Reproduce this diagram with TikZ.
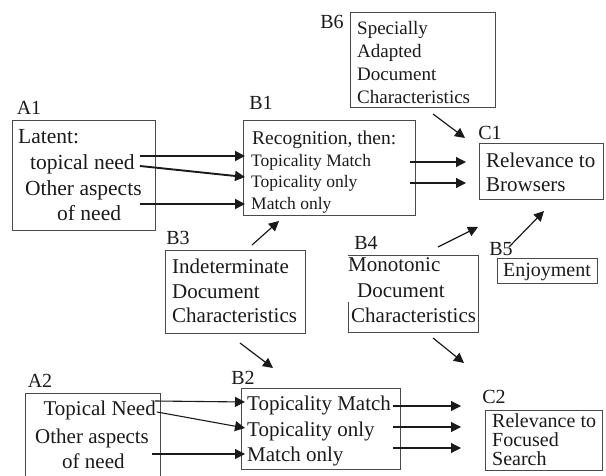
\documentclass[tikz,border=0pt]{standalone}
\usepackage{fontspec}
\setmainfont{Liberation Serif}
\usetikzlibrary{arrows.meta}
\definecolor{ink}{HTML}{1A1A1A}
\definecolor{boxgray}{HTML}{4A4A4A}
\newcommand{\fs}[1]{\fontsize{#1}{#1}\selectfont}
\begin{document}
\begin{tikzpicture}[x=1pt,y=-1pt,
  box/.style={draw=boxgray, line width=0.9pt, inner sep=0pt, outer sep=0pt, anchor=north west},
  txt/.style={inner sep=0pt, anchor=west, text=ink, text height=0.7em, text depth=0.25em, yshift=-4pt},
  lab/.style={inner sep=0pt, text=ink, font=\fs{20}, text height=0.7em, text depth=0.25em, yshift=-4pt},
  arr/.style={draw=ink, line width=1.2pt, -{Triangle[length=10pt,width=10pt]}},
  thickarr/.style={arr, line width=1.9pt},
  thinarr/.style={arr, line width=1.1pt}]
\useasboundingbox (0,0) rectangle (606,476);
\clip (0,0) rectangle (606,476);

% ---------- A1 ----------
\node[lab] (a1lab) at (29,108) {A1};
\node[box, minimum width=143pt, minimum height=110pt] (a1) at (12,120) {};
\node[txt, font=\fs{21.5}] (a1l1) at (18,137) {Latent:};
\node[txt, font=\fs{21.5}] (a1l2) at (30,163) {topical need};
\node[txt, font=\fs{21.5}] (a1l3) at (25,189) {Other aspects};
\node[txt, font=\fs{21.5}] (a1l4) at (57,214) {of need};

% ---------- B1 ----------
\node[lab] (b1lab) at (261,103) {B1};
\node[box, minimum width=172pt, minimum height=95pt] (b1) at (243,120) {};
\node[txt, font=\fs{19.5}] (b1l1) at (252,138) {Recognition, then:};
\node[txt, font=\fs{17.5}] (b1l2) at (251,160) {Topicality Match};
\node[txt, font=\fs{17.5}] (b1l3) at (251,181) {Topicality only};
\node[txt, font=\fs{17.5}] (b1l4) at (251,203) {Match only};

% ---------- B6 ----------
\node[lab] (b6lab) at (332,22) {B6};
\node[box, minimum width=145pt, minimum height=95pt] (b6) at (350,12) {};
\node[txt, font=\fs{19}] (b6l1) at (357,28) {Specially};
\node[txt, font=\fs{19}] (b6l2) at (357,51) {Adapted};
\node[txt, font=\fs{19}] (b6l3) at (357,74) {Document};
\node[txt, font=\fs{19}] (b6l4) at (357,97) {Characteristics};

% ---------- C1 ----------
\node[lab] (c1lab) at (490,133) {C1};
\node[box, minimum width=124pt, minimum height=56pt] (c1) at (479,143) {};
\node[txt, font=\fs{21}] (c1l1) at (486,161) {Relevance to};
\node[txt, font=\fs{21}] (c1l2) at (486,185) {Browsers};

% ---------- B3 ----------
\node[lab] (b3lab) at (178,238) {B3};
\node[box, minimum width=140pt, minimum height=83pt] (b3) at (165,250) {};
\node[txt, font=\fs{21}] (b3l1) at (172,267) {Indeterminate};
\node[txt, font=\fs{21}] (b3l2) at (172,292) {Document};
\node[txt, font=\fs{21}] (b3l3) at (172,316) {Characteristics};

% ---------- B4 (left side open at the top) ----------
\node[lab] (b4lab) at (366,243) {B4};
\node[inner sep=0pt, outer sep=0pt, anchor=north west, minimum width=130pt, minimum height=77pt] (b4) at (348,255) {};
\draw[boxgray, line width=0.9pt] (b4.north west) -- (b4.north east) -- (b4.south east) -- (b4.south west) -- ++(0,-30);
\node[txt, font=\fs{21}] (b4l1) at (348,265) {Monotonic};
\node[txt, font=\fs{21}] (b4l2) at (357,291) {Document};
\node[txt, font=\fs{21}] (b4l3) at (351,316) {Characteristics};

% ---------- B5 ----------
\node[lab] (b5lab) at (501,249) {B5};
\node[box, minimum width=100pt, minimum height=25pt] (b5) at (497,258) {};
\node[txt, font=\fs{20}, anchor=center] (b5l1) at (b5.center) {Enjoyment};

% ---------- A2 (runs past the lower edge) ----------
\node[lab] (a2lab) at (40,381) {A2};
\node[box, minimum width=135pt, minimum height=100pt] (a2) at (25,393) {};
\node[txt, font=\fs{21}, anchor=east] (a2l1) at (156,409) {Topical Need};
\node[txt, font=\fs{21}] (a2l2) at (35,437) {Other aspects};
\node[txt, font=\fs{21}] (a2l3) at (62,462) {of need};

% ---------- B2 ----------
\node[lab] (b2lab) at (243,378) {B2};
\node[box, minimum width=159pt, minimum height=81pt] (b2) at (241,388) {};
\node[txt, font=\fs{21}] (b2l1) at (247,404) {Topicality Match};
\node[txt, font=\fs{21}] (b2l2) at (247,430) {Topicality only};
\node[txt, font=\fs{21}] (b2l3) at (247,455) {Match only};

% ---------- C2 ----------
\node[lab] (c2lab) at (494,397) {C2};
\node[box, minimum width=117pt, minimum height=60pt] (c2) at (485,410) {};
\node[txt, font=\fs{20}] (c2l1) at (492,421) {Relevance to};
\node[txt, font=\fs{20}] (c2l2) at (492,440) {Focused};
\node[txt, font=\fs{20}] (c2l3) at (492,459) {Search};

% ---------- arrow end points ----------
\coordinate (a1s1) at (140,156); \coordinate (b1e1) at (245,156);
\coordinate (a1s2) at (140,166); \coordinate (b1e2) at (245,177);
\coordinate (a1s3) at (140,204); \coordinate (b1e3) at (245,204);
\coordinate (b1s1) at (410,162); \coordinate (c1e1) at (466,162);
\coordinate (b1s2) at (410,183); \coordinate (c1e2) at (466,183);
\coordinate (b6s) at (433,114);  \coordinate (c1e3) at (465,138);
\coordinate (b3s1) at (252,245); \coordinate (b1e4) at (279,221);
\coordinate (b4s1) at (438,247); \coordinate (c1e4) at (478,227);
\coordinate (b5s) at (509,247);  \coordinate (c1e5) at (544,211);
\coordinate (b3s2) at (240,343); \coordinate (b2e0) at (273,368);
\coordinate (b4s2) at (433,338); \coordinate (c2e0) at (464,363);
\coordinate (a2s1) at (155,401); \coordinate (b2e1) at (245,402);
\coordinate (a2s2) at (157,412); \coordinate (b2e2) at (245,428);
\coordinate (a2s3) at (152,454); \coordinate (b2e3) at (245,454);
\coordinate (b2s1) at (393,406); \coordinate (c2e1) at (461,406);
\coordinate (b2s2) at (393,427); \coordinate (c2e2) at (461,427);
\coordinate (b2s3) at (393,448); \coordinate (c2e3) at (461,448);

% ---------- connectors ----------
\draw[thickarr] (a1s1) -- (b1e1);
\draw[thickarr] (a1s2) -- (b1e2);
\draw[thickarr] (a1s3) -- (b1e3);
\draw[arr] (b1s1) -- (c1e1);
\draw[arr] (b1s2) -- (c1e2);
\draw[arr] (b6s) -- (c1e3);
\draw[arr] (b3s1) -- (b1e4);
\draw[arr] (b4s1) -- (c1e4);
\draw[arr] (b5s) -- (c1e5);
\draw[arr] (b3s2) -- (b2e0);
\draw[arr] (b4s2) -- (c2e0);
\draw[thinarr] (a2s1) -- (b2e1);
\draw[thinarr] (a2s2) -- (b2e2);
\draw[thinarr] (a2s3) -- (b2e3);
\draw[thinarr] (b2s1) -- (c2e1);
\draw[thinarr] (b2s2) -- (c2e2);
\draw[thinarr] (b2s3) -- (c2e3);
\end{tikzpicture}
\end{document}
